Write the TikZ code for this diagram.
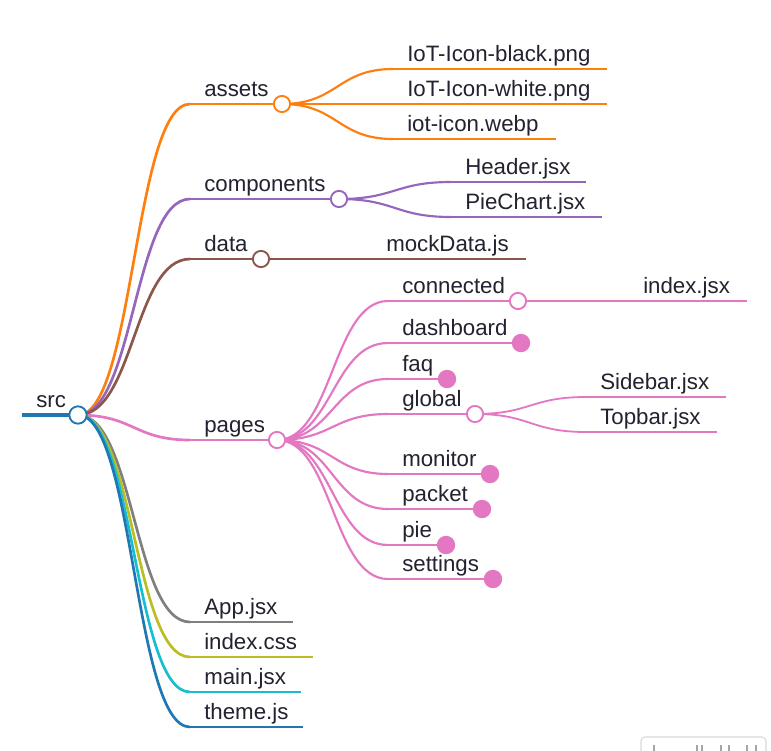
\documentclass[tikz,border=0pt]{standalone}
\usepackage{fontspec}
\setmainfont{Liberation Sans}
\usetikzlibrary{calc}
\definecolor{cblue}{HTML}{1F77B4}
\definecolor{corange}{HTML}{FF7F0E}
\definecolor{cpurple}{HTML}{9467BD}
\definecolor{cbrown}{HTML}{8C564B}
\definecolor{cpink}{HTML}{E377C2}
\definecolor{cgray}{HTML}{7F7F7F}
\definecolor{colive}{HTML}{BCBD22}
\definecolor{ccyan}{HTML}{17BECF}
\definecolor{txt}{HTML}{222230}
\definecolor{tool}{HTML}{D9D9D9}
\tikzset{
  lbl/.style={anchor=base west, inner sep=0pt, text=txt, font=\fontsize{16.7}{20}\selectfont},
  dzero/.style={line width=3pt},
  done/.style={line width=2pt},
  dtwo/.style={line width=1.6pt},
  dthree/.style={line width=1.35pt},
  opennode/.style={circle, draw=#1, fill=white, line width=1.4pt, minimum size=12.2pt, inner sep=0pt},
  fullnode/.style={circle, fill=#1, minimum size=13.8pt, inner sep=0pt},
}
% name, x, y, xend, text, colour, width style
\newcommand{\mnode}[7]{%
  \coordinate (#1-l) at (#2,#3);
  \coordinate (#1-r) at (#4,#3);
  \draw[#6,#7] (#1-l) -- (#1-r);
  \node[lbl] (#1) at ($(#1-l)+(14,-7.3)$) {#5};
}
% from, to, colour, width style
\newcommand{\mlink}[4]{%
  \path ($(#1)!.5!(#2)$) coordinate (lkm);
  \draw[#3,#4] (#1) .. controls (lkm |- #1) and (lkm |- #2) .. (#2);
}
\begin{document}
\begin{tikzpicture}[x=0.75pt,y=-0.75pt]
\useasboundingbox (0,0) rectangle (771,750);
\fill[white] (0,0) rectangle (771,750);

% ---- nodes (underlines + labels)
\mnode{src}{22}{415}{78}{src}{cblue}{dzero}
% depth 1
\mnode{assets}{190}{104}{282}{assets}{corange}{done}
\mnode{components}{190}{199}{339}{components}{cpurple}{done}
\mnode{data}{190}{259}{261}{data}{cbrown}{done}
\mnode{pages}{190}{440}{277}{pages}{cpink}{done}
\mnode{app}{190}{622}{293}{App.jsx}{cgray}{done}
\mnode{indexcss}{190}{657}{313}{index.css}{colive}{done}
\mnode{mainjsx}{190}{692}{301}{main.jsx}{ccyan}{done}
\mnode{theme}{190}{727}{303}{theme.js}{cblue}{done}
% depth 2
\mnode{iotblack}{393}{69}{607}{IoT-Icon-black.png}{corange}{dtwo}
\mnode{iotwhite}{393}{104}{607}{IoT-Icon-white.png}{corange}{dtwo}
\mnode{iotwebp}{393}{139}{556}{iot-icon.webp}{corange}{dtwo}
\mnode{header}{451}{182}{586}{Header.jsx}{cpurple}{dtwo}
\mnode{piechart}{451}{217}{602}{PieChart.jsx}{cpurple}{dtwo}
\mnode{mock}{372}{259}{526}{mockData.js}{cbrown}{dtwo}
\mnode{connected}{388}{301}{518}{connected}{cpink}{dtwo}
\mnode{dashboard}{388}{343}{521}{dashboard}{cpink}{dtwo}
\mnode{faq}{388}{379}{447}{faq}{cpink}{dtwo}
\mnode{global}{388}{414}{475}{global}{cpink}{dtwo}
\mnode{monitor}{388}{474}{490}{monitor}{cpink}{dtwo}
\mnode{packet}{388}{509}{482}{packet}{cpink}{dtwo}
\mnode{pie}{388}{545}{446}{pie}{cpink}{dtwo}
\mnode{settings}{388}{579}{493}{settings}{cpink}{dtwo}
% depth 3
\mnode{indexjsx}{629}{301}{747}{index.jsx}{cpink}{dthree}
\mnode{sidebar}{586}{397}{726}{Sidebar.jsx}{cpink}{dthree}
\mnode{topbar}{586}{432}{717}{Topbar.jsx}{cpink}{dthree}

% ---- links
\mlink{src-r}{assets-l}{corange}{done}
\mlink{src-r}{components-l}{cpurple}{done}
\mlink{src-r}{data-l}{cbrown}{done}
\mlink{src-r}{pages-l}{cpink}{done}
\mlink{src-r}{app-l}{cgray}{done}
\mlink{src-r}{indexcss-l}{colive}{done}
\mlink{src-r}{mainjsx-l}{ccyan}{done}
\mlink{src-r}{theme-l}{cblue}{done}

\mlink{assets-r}{iotblack-l}{corange}{dtwo}
\mlink{assets-r}{iotwhite-l}{corange}{dtwo}
\mlink{assets-r}{iotwebp-l}{corange}{dtwo}
\mlink{components-r}{header-l}{cpurple}{dtwo}
\mlink{components-r}{piechart-l}{cpurple}{dtwo}
\mlink{data-r}{mock-l}{cbrown}{dtwo}
\mlink{pages-r}{connected-l}{cpink}{dtwo}
\mlink{pages-r}{dashboard-l}{cpink}{dtwo}
\mlink{pages-r}{faq-l}{cpink}{dtwo}
\mlink{pages-r}{global-l}{cpink}{dtwo}
\mlink{pages-r}{monitor-l}{cpink}{dtwo}
\mlink{pages-r}{packet-l}{cpink}{dtwo}
\mlink{pages-r}{pie-l}{cpink}{dtwo}
\mlink{pages-r}{settings-l}{cpink}{dtwo}

\mlink{connected-r}{indexjsx-l}{cpink}{dthree}
\mlink{global-r}{sidebar-l}{cpink}{dthree}
\mlink{global-r}{topbar-l}{cpink}{dthree}

% ---- circles
\node[opennode=cblue, minimum size=13pt] (srcc) at (src-r) {};
\node[opennode=corange] (assetsc) at (assets-r) {};
\node[opennode=cpurple] (componentsc) at (components-r) {};
\node[opennode=cbrown] (datac) at (data-r) {};
\node[opennode=cpink] (pagesc) at (pages-r) {};
\node[opennode=cpink] (connectedc) at (connected-r) {};
\node[opennode=cpink] (globalc) at (global-r) {};
\node[fullnode=cpink] (dashboardc) at (dashboard-r) {};
\node[fullnode=cpink] (faqc) at (faq-r) {};
\node[fullnode=cpink] (monitorc) at (monitor-r) {};
\node[fullnode=cpink] (packetc) at (packet-r) {};
\node[fullnode=cpink] (piec) at (pie-r) {};
\node[fullnode=cpink] (settingsc) at (settings-r) {};

% ---- toolbar fragment (bottom right)
\draw[tool, line width=0.8pt, rounded corners=3pt] (641,770) -- (641,737) -- (766,737) -- (766,770);
\foreach \tx in {654,697,702,721,729,747,756}
  \draw[gray!70, line width=1pt] (\tx,745) -- (\tx,752);
\end{tikzpicture}
\end{document}
